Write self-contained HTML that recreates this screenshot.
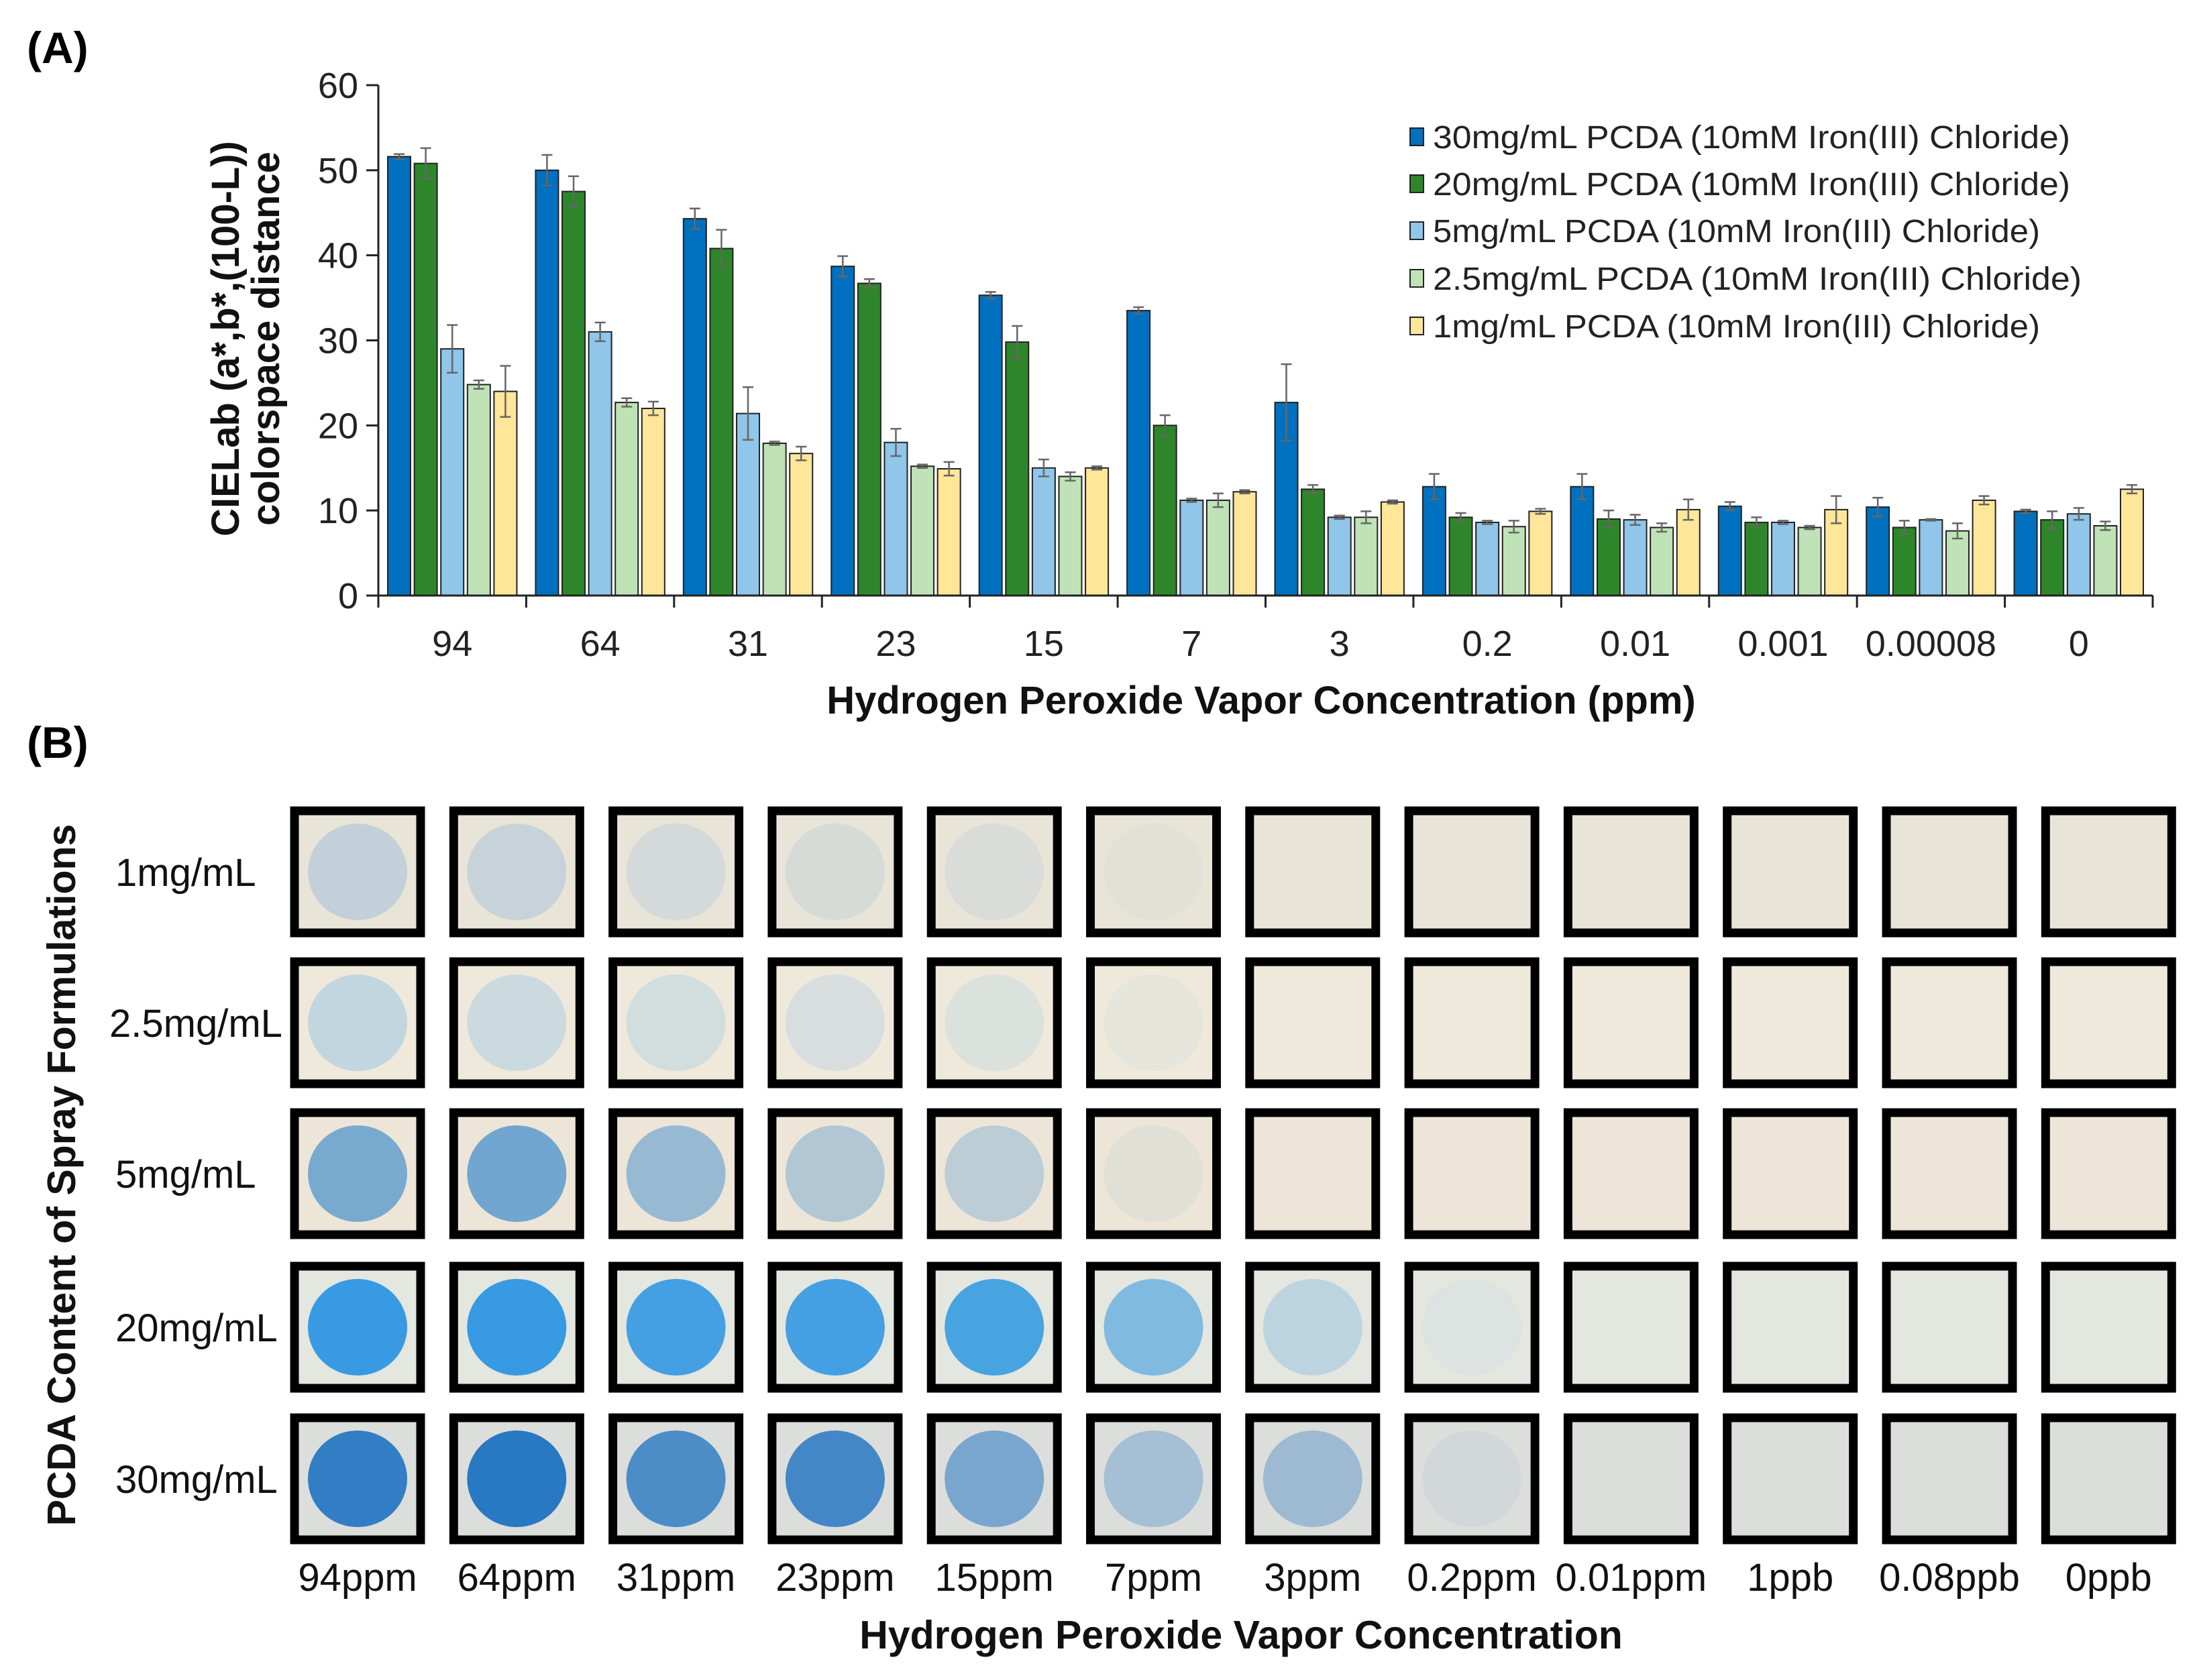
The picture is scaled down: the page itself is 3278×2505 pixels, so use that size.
<!DOCTYPE html>
<html><head><meta charset="utf-8"><style>
html,body{margin:0;padding:0;background:#fff;}
svg{display:block;font-family:"Liberation Sans",sans-serif;}
</style></head><body>
<svg id="fig" width="3278" height="2505" viewBox="0 0 3278 2505">
<text x="40" y="94" font-size="66" font-weight="bold">(A)</text>
<text x="40" y="1130" font-size="66" font-weight="bold">(B)</text>
<g id="chart"></g>
<g id="grid"></g>
</svg>
<script>
const categories = ["94","64","31","23","15","7","3","0.2","0.01","0.001","0.00008","0"];
const seriesNames = ["30mg/mL PCDA (10mM Iron(III) Chloride)","20mg/mL PCDA (10mM Iron(III) Chloride)","5mg/mL PCDA (10mM Iron(III) Chloride)","2.5mg/mL PCDA (10mM Iron(III) Chloride)","1mg/mL PCDA (10mM Iron(III) Chloride)"];
const s30 = [51.6,50,44.3,38.7,35.3,33.5,22.7,12.8,12.8,10.5,10.4,9.9];
const s20 = [50.8,47.5,40.8,36.7,29.8,20,12.5,9.2,9,8.6,8,8.9];
const s5 = [29,31,21.4,18,15,11.2,9.2,8.6,8.9,8.6,8.9,9.6];
const s25 = [24.8,22.7,17.9,15.2,14,11.2,9.2,8.1,8,8,7.6,8.2];
const s1 = [24,22,16.7,14.9,15,12.2,11,9.9,10.1,10.1,11.2,12.5];
const e30 = [0.3,1.8,1.2,1.2,0.4,0.4,4.5,1.5,1.5,0.5,1.1,0.2];
const e20 = [1.8,1.8,2.2,0.5,1.9,1.2,0.5,0.5,1,0.6,0.8,1];
const e5 = [2.8,1.1,3.1,1.6,1,0.2,0.2,0.2,0.6,0.2,0.1,0.7];
const e25 = [0.5,0.5,0.2,0.2,0.5,0.8,0.7,0.7,0.5,0.2,0.9,0.5];
const e1 = [3,0.8,0.8,0.8,0.2,0.2,0.2,0.3,1.2,1.6,0.5,0.5];
const yTicks = [0,10,20,30,40,50,60];
const rowLabels = ["1mg/mL","2.5mg/mL","5mg/mL","20mg/mL","30mg/mL"];
const colLabels = ["94ppm","64ppm","31ppm","23ppm","15ppm","7ppm","3ppm","0.2ppm","0.01ppm","1ppb","0.08ppb","0ppb"];
const int1 = [0.45,0.4,0.25,0.22,0.18,0.08,0,0,0,0,0,0];
const int25 = [0.5,0.4,0.32,0.26,0.22,0.1,0,0,0,0,0,0];
const int5 = [0.75,0.8,0.55,0.38,0.3,0.08,0,0,0,0,0,0];
const int20 = [0.95,0.95,0.88,0.88,0.85,0.55,0.22,0.04,0,0,0,0];
const int30 = [0.95,1,0.8,0.85,0.55,0.3,0.35,0.05,0,0,0,0];

const NS="http://www.w3.org/2000/svg";
function mk(tag,attrs,parent){const e=document.createElementNS(NS,tag);for(const k in attrs)e.setAttribute(k,attrs[k]);parent.appendChild(e);return e;}
const chart=document.getElementById('chart');
const X0=564,X1=3209,Y0=888,Y60=127;
const catW=(X1-X0)/categories.length;
const yS=v=>Y0-(Y0-Y60)*v/60;
const xC=i=>X0+catW*(i+0.5);
const colors=["#0070c0","#2e862a","#8fc6ea","#bfe3b6","#ffe699"];
const vals=[s30,s20,s5,s25,s1], errs=[e30,e20,e5,e25,e1];
const barW=34,pitch=39.6;
vals.forEach((arr,s)=>{arr.forEach((v,i)=>{
  const x=xC(i)-2*pitch-barW/2+s*pitch;
  const r=mk('rect',{x:x,y:yS(v),width:barW,height:Y0-yS(v),fill:colors[s],stroke:"#222","stroke-width":2},chart);
  
  
  const cx=x+barW/2,e=errs[s][i];
  const p=mk('path',{d:`M${cx},${yS(v+e)}V${yS(v-e)}M${cx-8},${yS(v+e)}h16M${cx-8},${yS(v-e)}h16`,stroke:"#666","stroke-width":2.5,fill:"none"},chart);
  
  
});});
mk('path',{d:`M${X0},${Y60}V${Y0}H${X1}`,stroke:"#222","stroke-width":3,fill:"none"},chart);
yTicks.forEach(t=>{
  mk('path',{d:`M${X0-18},${yS(t)}H${X0}`,stroke:"#222","stroke-width":3},chart);
  const tx=mk('text',{x:X0-30,y:yS(t)+19,"text-anchor":"end","font-size":54,fill:"#222"},chart);tx.textContent=t;
  
  
});
for(let i=0;i<=categories.length;i++) mk('path',{d:`M${X0+catW*i},${Y0}v18`,stroke:"#222","stroke-width":3},chart);
categories.forEach((c,i)=>{
  const t=mk('text',{x:xC(i),y:978,"text-anchor":"middle","font-size":54,fill:"#222"},chart);t.textContent=c;
  
  
});
let t=mk('text',{x:1880,y:1064,"text-anchor":"middle","font-size":58,"font-weight":"bold",fill:"#111"},chart);t.textContent="Hydrogen Peroxide Vapor Concentration (ppm)";


const yt=mk('text',{transform:"translate(356,505) rotate(-90)","text-anchor":"middle","font-size":58,"font-weight":"bold",fill:"#111"},chart);


mk('tspan',{x:0,dy:0},yt).textContent="CIELab (a*,b*,(100-L))";
mk('tspan',{x:0,dy:60},yt).textContent="colorspace distance";
const lgY=[205,275,345,416,487];
seriesNames.forEach((n,s)=>{
  const g=mk('g',{},chart);
  
  
  mk('rect',{x:2102,y:lgY[s]-14,width:20,height:26,fill:colors[s],stroke:"#222","stroke-width":2},g);
  const tx=mk('text',{x:2136,y:lgY[s]+16,"font-size":48,fill:"#222",textLength:[950,950,905,967,905][s],lengthAdjust:"spacingAndGlyphs"},g);tx.textContent=n;
});
const grid=document.getElementById('grid');
const ints=[int1,int25,int5,int20,int30];
const dotCol=[[150,185,220],[150,195,225],[80,150,205],[45,150,225],[40,120,195]];
const bgCol=["#e8e4d8","#efe9dc","#ede6d8","#e4e6e0","#dcdedb"];
const rowTop=[1203,1428,1653,1882,2108];
const colX=i=>433+i*237.3;
rowLabels.forEach((rl,r)=>{
  const tx=mk('text',{x:r==1?163:172,y:rowTop[r]+118,"font-size":58,fill:"#111"},grid);tx.textContent=rl;
  
  
  colLabels.forEach((c,i)=>{
    const g=mk('g',{},grid);
    
    
    const x=colX(i),y=rowTop[r];
    mk('rect',{x:x+6,y:y+6,width:188,height:182,fill:bgCol[r],stroke:"#000","stroke-width":13},g);
    const a=ints[r][i];
    if(a>0){const d=dotCol[r];mk('ellipse',{cx:x+100,cy:y+97,rx:74,ry:72,fill:`rgba(${d[0]},${d[1]},${d[2]},${a})`},g);}
  });
});
colLabels.forEach((c,i)=>{
  const tx=mk('text',{x:colX(i)+100,y:2372,"text-anchor":"middle","font-size":58,fill:"#111"},grid);tx.textContent=c;
  
  
});
t=mk('text',{x:1850,y:2458,"text-anchor":"middle","font-size":59,"font-weight":"bold",fill:"#111"},grid);t.textContent="Hydrogen Peroxide Vapor Concentration";


t=mk('text',{transform:"translate(112,1752) rotate(-90)","text-anchor":"middle","font-size":59,"font-weight":"bold",fill:"#111"},grid);t.textContent="PCDA Content of Spray Formulations";


</script>
</body></html>
